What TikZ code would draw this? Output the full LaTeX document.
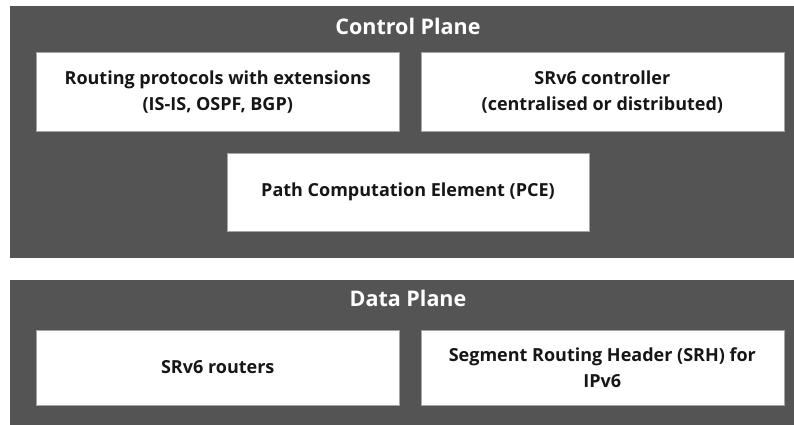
\documentclass[tikz,border=0pt]{standalone}
\usepackage{fontspec}
\setmainfont{Open Sans}
\usetikzlibrary{positioning,calc}
\definecolor{planegray}{RGB}{84,84,84}
\definecolor{boxedge}{RGB}{165,165,165}
\definecolor{boxtext}{RGB}{22,22,22}
\tikzset{
  plane/.style={fill=planegray, inner sep=0pt, minimum width=796pt},
  planetitle/.style={text=white, font=\fontsize{21.5}{24}\selectfont\bfseries, inner sep=0pt, anchor=base},
  block/.style={draw=boxedge, line width=0.6pt, fill=white, inner sep=0pt, minimum width=363pt, align=center, text=boxtext, font=\fontsize{18}{26}\selectfont\bfseries}
}

\begin{document}
\begin{tikzpicture}[x=1pt, y=1pt, node distance=21pt and 21pt]
  \useasboundingbox (0,0) rectangle (794,-425);
  \node[plane, minimum height=252pt] (cplane) at (408,-132) {};
  \node[plane, minimum height=150pt] (dplane) at (408,-355) {};
  \node[planetitle] (ctitle) at (408,-35) {Control Plane};
  \node[planetitle] (dtitle) at (408,-306.5) {Data Plane};

  \node[block, minimum height=78.5pt] (routing) at (217.75,-91.75) {Routing protocols with extensions\\(IS-IS, OSPF, BGP)};
  \node[block, minimum height=78.5pt, right=of routing] (controller) {SRv6 controller\\(centralised or distributed)};
  \node[block, minimum height=78pt, minimum width=362pt] (pce) at (408,-192) {Path Computation Element (PCE)};

  \node[block, minimum height=75pt] (routers) at (217.75,-367.5) {SRv6 routers};
  \node[block, minimum height=75pt, right=of routers] (srh) {Segment Routing Header (SRH) for\\IPv6};
\end{tikzpicture}
\end{document}
